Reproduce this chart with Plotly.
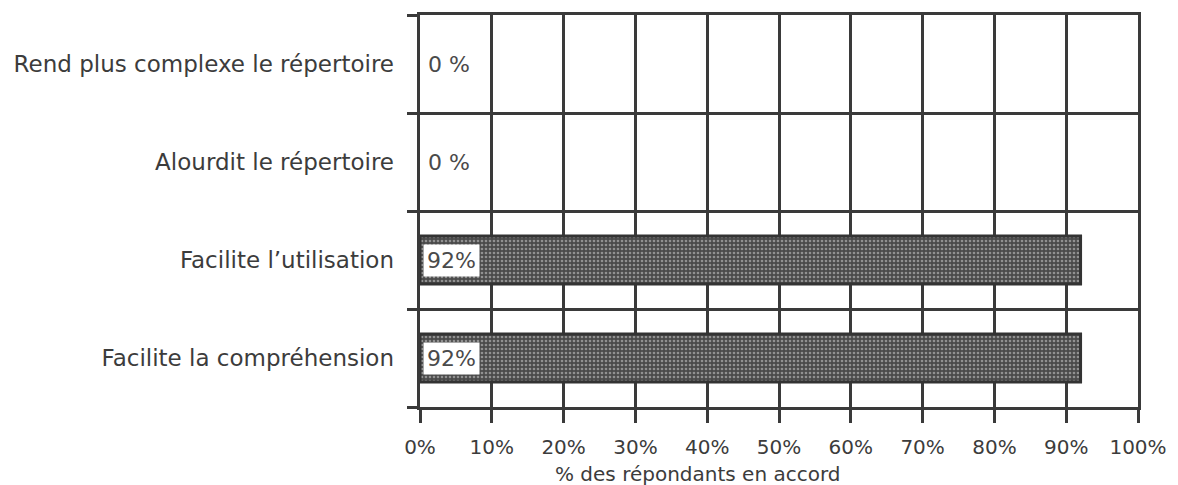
import plotly.graph_objects as go

categories = ["Facilite la compréhension", "Facilite l\u2019utilisation",
              "Alourdit le répertoire", "Rend plus complexe le répertoire"]
values = [0.92, 0.92, 0.0, 0.0]
value_labels = ["92%", "92%", "0 %", "0 %"]
x_ticks = [i / 10 for i in range(11)]
x_ticktext = [f"{i*10}%" for i in range(11)]
x_title = "% des répondants en accord"

ypos = list(range(len(categories)))
boundaries = [i - 0.5 for i in range(len(categories) + 1)]

line_col = "#3a3a3a"
text_col = "#3c3c3c"

fig = go.Figure()
fig.add_trace(go.Bar(
    x=values, y=ypos, orientation="h", width=0.49,
    marker=dict(color="#6a6a6a",
                line=dict(color="#333333",
                          width=[3 if v > 0 else 0 for v in values]),
                pattern=dict(shape=".", bgcolor="#4a4a4a", fgcolor="#d8d8d8",
                             size=4, solidity=0.35)),
    showlegend=False, hoverinfo="skip",
))

for y, v, lab in zip(ypos, values, value_labels):
    boxed = v > 0
    fig.add_annotation(
        x=0, y=y, xref="x", yref="y", text=lab, showarrow=False,
        xanchor="left", xshift=3 if boxed else 4,
        font=dict(family="DejaVu Sans", size=22, color="#4a4a4a"),
        bgcolor="white" if boxed else "rgba(0,0,0,0)", borderpad=3,
    )

fig.add_annotation(
    x=0.386, y=0, xref="paper", yref="paper", yshift=-67, text=x_title,
    showarrow=False, xanchor="center", yanchor="middle",
    font=dict(family="DejaVu Sans", size=20, color=text_col),
)

fig.update_layout(
    width=1178, height=485,
    margin=dict(l=420, r=40, t=15, b=78),
    plot_bgcolor="white", paper_bgcolor="white",
    xaxis=dict(range=[0, 1], tickvals=x_ticks, ticktext=x_ticktext,
               showgrid=True, gridcolor=line_col, gridwidth=3,
               ticks="outside", ticklen=13, tickwidth=3, tickcolor=line_col,
               ticklabelstandoff=7,
               zeroline=False, showline=True, linecolor=line_col,
               linewidth=3, mirror=True,
               tickfont=dict(family="DejaVu Sans", size=20, color=text_col)),
    yaxis=dict(range=[-0.5, len(categories) - 0.5], tickvals=boundaries,
               ticktext=[""] * len(boundaries),
               showgrid=True, gridcolor=line_col, gridwidth=3,
               ticks="outside", ticklen=10, tickwidth=3, tickcolor=line_col,
               zeroline=False, showline=True, linecolor=line_col,
               linewidth=3, mirror=True),
    yaxis2=dict(range=[-0.5, len(categories) - 0.5], overlaying="y",
                side="left", tickvals=ypos, ticktext=categories,
                showgrid=False, zeroline=False, showline=False, ticks="",
                ticklabelstandoff=25,
                tickfont=dict(family="DejaVu Sans", size=23, color=text_col)),
)
# invisible trace to activate yaxis2
fig.add_trace(go.Scatter(x=[0], y=[0], yaxis="y2", mode="markers",
                         marker=dict(opacity=0), showlegend=False,
                         hoverinfo="skip"))

fig.write_html("out.html")
